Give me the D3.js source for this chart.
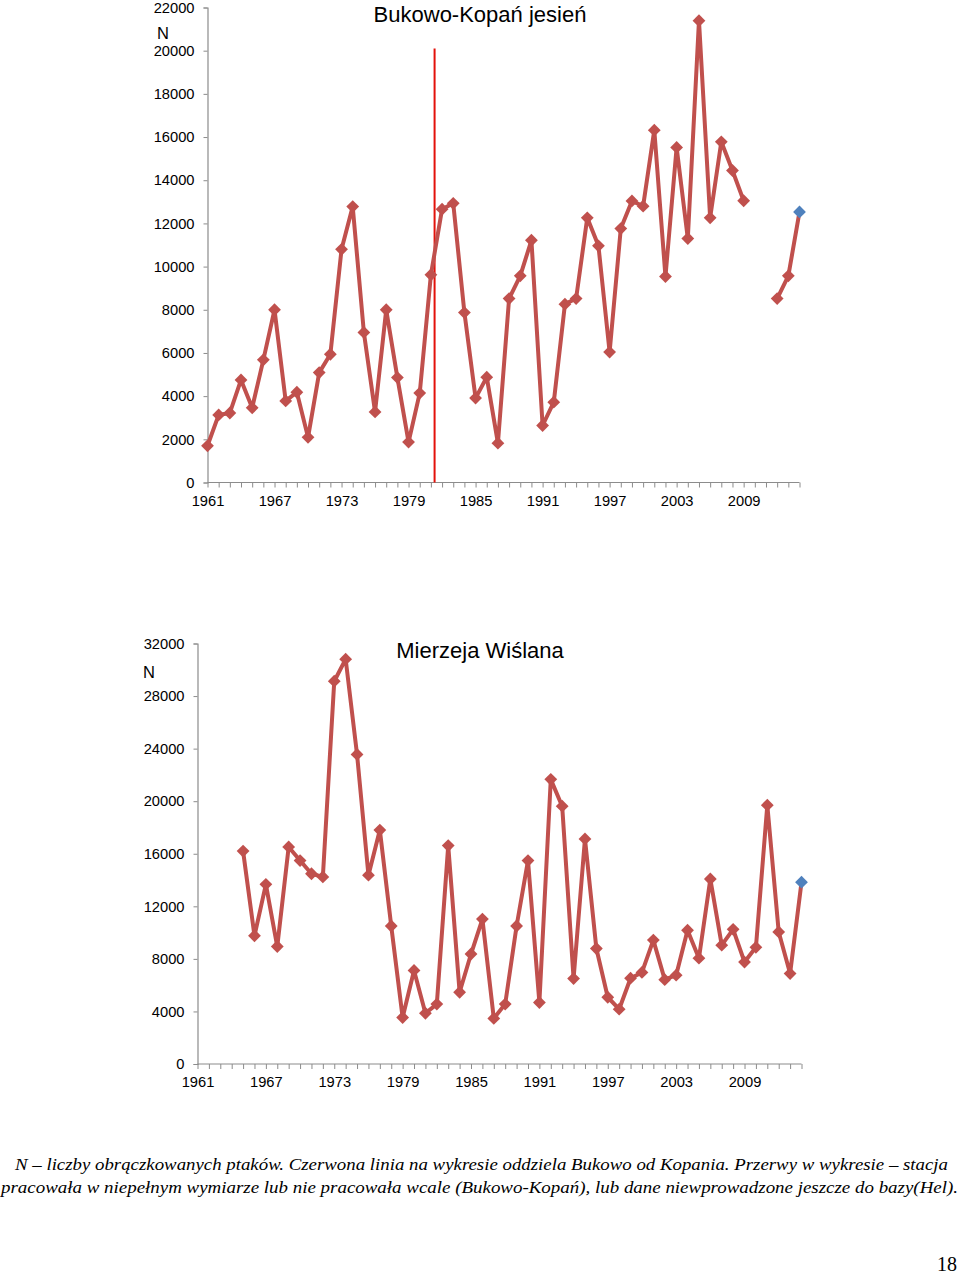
<!DOCTYPE html>
<html><head><meta charset="utf-8">
<script src="https://cdn.jsdelivr.net/npm/d3@7"></script>
<style>
html,body{margin:0;padding:0;background:#fff;}
svg{display:block;}
</style></head>
<body>
<svg id="c" width="960" height="1276"></svg>
<script>
// ---- data ----
const years = d3.range(1961, 2015);
const xTickLabels = ["1961","1967","1973","1979","1985","1991","1997","2003","2009"];
const bukowoTicks = [0,2000,4000,6000,8000,10000,12000,14000,16000,18000,20000,22000];
const helTicks = [0,4000,8000,12000,16000,20000,24000,28000,32000];
// Bukowo-Kopań autumn, 1961..2014 (null = station not working)
const bukowo = [1700,3130,3220,4750,3460,5680,8000,3780,4180,2090,5090,5940,10800,12780,6950,3270,8000,4860,1870,4140,
  9620,12660,12930,7870,3910,4880,1820,8520,9570,11220,2640,3720,8260,8520,12260,10960,6040,11760,13040,12800,
  16320,9540,15520,11300,21390,12260,15780,14450,13050,null,null,8520,9570,12530];
// Mierzeja Wiślana (Hel), 1961..2014
const hel = [null,null,null,null,16200,9760,13670,8940,16520,15480,14480,14240,29130,30810,23560,14370,17800,10500,3540,7120,
  3860,4560,16620,5460,8370,11030,3470,4560,10500,15480,4680,21660,19620,6500,17130,8790,5080,4170,6530,6970,
  9430,6420,6760,10180,8050,14080,9040,10250,7760,8880,19700,10050,6880,13840];
const separatorYear = 1981.33, separatorTop = 20100;
const titles = ["Bukowo-Kopań jesień", "Mierzeja Wiślana"];
const caption = ["N – liczby obrączkowanych ptaków. Czerwona linia na wykresie oddziela Bukowo od Kopania. Przerwy w wykresie – stacja",
  "pracowała w niepełnym wymiarze lub nie pracowała wcale (Bukowo-Kopań), lub dane niewprowadzone jeszcze do bazy(Hel)."];
const pageNumber = "18";

// ---- drawing ----
const svg = d3.select("#c");
const lineColor = "#c0504d", blue = "#4f81bd", axisColor = "#8c8c8c";
const font = "Liberation Sans, Arial, sans-serif";

function chart(opts) {
  const {values, ticks, x0, x1, yTop, yBot, yMax, title, titleX, titleY, nX, nY, separator} = opts;
  const x = d3.scaleLinear().domain([1961, 2014]).range([x0, x1]);
  const y = d3.scaleLinear().domain([0, yMax]).range([yBot, yTop]);
  const g = svg.append("g");

  // y axis
  const ya = g.append("g").attr("transform", `translate(${x0},0)`)
    .call(d3.axisLeft(y).tickValues(ticks).tickSize(4).tickPadding(9).tickFormat(d3.format("d")));
  ya.select(".domain").attr("stroke", axisColor).attr("stroke-width", 1.2);
  ya.selectAll(".tick line").attr("stroke", axisColor);
  ya.selectAll("text").attr("font-family", font).attr("font-size", 14.7).attr("fill", "#000");

  // x axis
  const xa = g.append("g").attr("transform", `translate(0,${yBot})`)
    .call(d3.axisBottom(x).tickValues(years).tickSize(5).tickPadding(8)
      .tickFormat(d => xTickLabels.includes(String(d)) ? String(d) : ""));
  xa.select(".domain").attr("stroke", axisColor).attr("stroke-width", 1.2).attr("d", `M${x0},0H${x1}`);
  xa.selectAll(".tick line").attr("stroke", axisColor);
  xa.selectAll("text").attr("font-family", font).attr("font-size", 14.7).attr("fill", "#000");

  if (separator) {
    g.append("line").attr("x1", x(separatorYear)).attr("x2", x(separatorYear))
      .attr("y1", y(separatorTop)).attr("y2", y(0))
      .attr("stroke", "#e3120b").attr("stroke-width", 2);
  }

  const pts = years.map((yr, i) => ({yr, v: values[i]}));
  g.append("path").datum(pts)
    .attr("fill", "none").attr("stroke", lineColor).attr("stroke-width", 4)
    .attr("stroke-linejoin", "round")
    .attr("d", d3.line().defined(d => d.v != null).x(d => x(d.yr)).y(d => y(d.v)));

  const last = years.length - 1;
  g.selectAll("path.m").data(pts.filter(d => d.v != null)).join("path")
    .attr("class", "m")
    .attr("transform", d => `translate(${x(d.yr)},${y(d.v)}) rotate(45)`)
    .attr("d", d3.symbol().type(d3.symbolSquare).size(82))
    .attr("fill", d => d.yr === years[last] ? blue : lineColor);

  g.append("text").attr("x", titleX).attr("y", titleY).attr("text-anchor", "middle")
    .attr("font-family", font).attr("font-size", 22).text(title);
  g.append("text").attr("x", nX).attr("y", nY).attr("text-anchor", "middle")
    .attr("font-family", font).attr("font-size", 16.5).text("N");
}

chart({values: bukowo, ticks: bukowoTicks, x0: 207.5, x1: 799.5, yTop: 7.5, yBot: 482.5, yMax: 22000,
  title: titles[0], titleX: 480, titleY: 22, nX: 163, nY: 39, separator: true});
chart({values: hel, ticks: helTicks, x0: 197.5, x1: 801.5, yTop: 643.5, yBot: 1064, yMax: 32000,
  title: titles[1], titleX: 480, titleY: 658, nX: 149, nY: 678, separator: false});

// caption
const cap = svg.append("g").attr("font-family", "Liberation Serif, serif").attr("font-style", "italic")
  .attr("font-size", 17).attr("fill", "#000");
cap.append("text").attr("x", 15).attr("y", 1170).attr("textLength", 933)
  .attr("lengthAdjust", "spacingAndGlyphs").text(caption[0]);
cap.append("text").attr("x", 1).attr("y", 1193).attr("textLength", 957)
  .attr("lengthAdjust", "spacingAndGlyphs").text(caption[1]);
svg.append("text").attr("x", 957).attr("y", 1271).attr("text-anchor", "end")
  .attr("font-family", "Liberation Serif, serif").attr("font-size", 20).text(pageNumber);
</script>
</body></html>
